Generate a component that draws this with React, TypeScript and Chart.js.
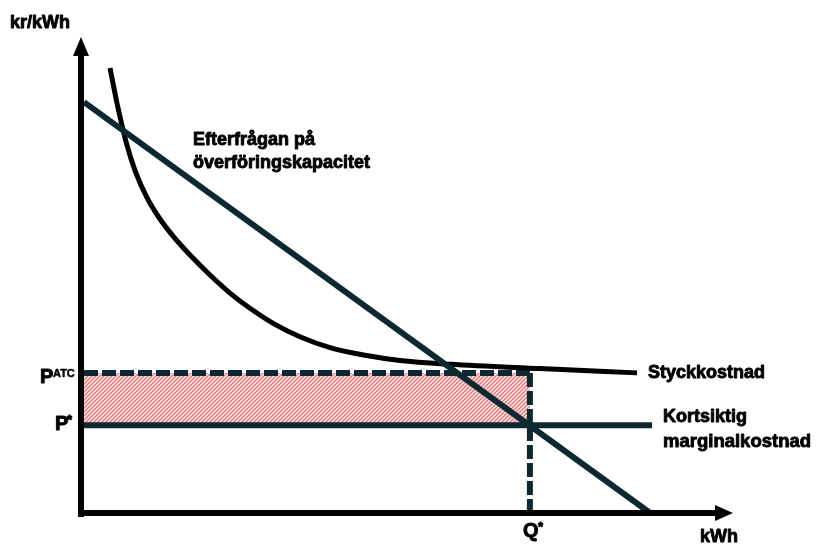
import React, { useEffect, useRef } from "react";
import { Chart, registerables } from "chart.js";

Chart.register(...registerables);

// ---- data (x: kWh units 0..100, y: kr/kWh units 0..100) ----
const DEMAND_X = [0, 87.1];
const DEMAND_Y = [86.5, 0];
const ATC_X = [4.0, 5.23, 6.46, 7.85, 9.69, 11.69, 14.0, 16.31, 19.38, 22.46, 25.54, 29.38, 33.23, 37.85, 43.23, 48.62, 56.31, 70.15, 85.08];
const ATC_Y = [93.7, 85.3, 78.2, 72.1, 66.4, 61.9, 57.8, 54.3, 50.1, 46.3, 43.1, 39.7, 37.1, 34.8, 33.2, 32.1, 31.3, 30.4, 29.5];
const P_ATC = 29.5;
const P_STAR = 18.5;
const Q_STAR = 68.6;
const MC_END_X = 87.4;

const Y_AXIS_LABEL = "kr/kWh";
const X_AXIS_LABEL = "kWh";
const DEMAND_LABEL = ["Efterfrågan på", "överföringskapacitet"];
const ATC_LABEL = "Styckkostnad";
const MC_LABEL = ["Kortsiktig", "marginalkostnad"];
const P_ATC_LABEL = ["P", "ATC"];
const P_STAR_LABEL = ["P", "*"];
const Q_STAR_LABEL = ["Q", "*"];

const TEAL = "#0d2831";
const FONT = "'Liberation Sans', Arial, sans-serif";

function makeHatch(): CanvasPattern | string {
  const n = 4;
  const c = document.createElement("canvas");
  c.width = n;
  c.height = n;
  const g = c.getContext("2d");
  if (!g) return "#f4b8b8";
  g.fillStyle = "#fbe2e2";
  g.fillRect(0, 0, n, n);
  g.strokeStyle = "#e06a6a";
  g.lineWidth = 1.2;
  g.beginPath();
  g.moveTo(-1, n + 1);
  g.lineTo(n + 1, -1);
  g.moveTo(-1, 1);
  g.lineTo(1, -1);
  g.moveTo(n - 1, n + 1);
  g.lineTo(n + 1, n - 1);
  g.stroke();
  return g.createPattern(c, "repeat") || "#f4b8b8";
}

const pts = (xs: number[], ys: number[]) => xs.map((x, i) => ({ x, y: ys[i] }));

function heavyText(ctx: CanvasRenderingContext2D, s: string, x: number, y: number) {
  ctx.fillText(s, x, y);
  ctx.strokeText(s, x, y);
}

const overlay = {
  id: "overlay",
  afterDraw(chart: any) {
    const ctx: CanvasRenderingContext2D = chart.ctx;
    const xs = chart.scales.x;
    const ys = chart.scales.y;
    const area = chart.chartArea;
    const x0 = xs.getPixelForValue(0);
    const y0 = ys.getPixelForValue(0);
    ctx.save();
    // axes
    ctx.strokeStyle = "#000";
    ctx.fillStyle = "#000";
    ctx.lineWidth = 6;
    ctx.lineCap = "butt";
    ctx.beginPath();
    ctx.moveTo(x0 - 3, y0 + 4);
    ctx.lineTo(x0 - 3, area.top + 14);
    ctx.stroke();
    ctx.beginPath();
    ctx.moveTo(x0 - 3, area.top - 1);
    ctx.lineTo(x0 - 11, area.top + 18);
    ctx.lineTo(x0 + 5, area.top + 18);
    ctx.closePath();
    ctx.fill();
    ctx.beginPath();
    ctx.moveTo(x0 - 6, y0);
    ctx.lineTo(area.right - 16, y0);
    ctx.stroke();
    ctx.beginPath();
    ctx.moveTo(area.right - 1, y0);
    ctx.lineTo(area.right - 19, y0 - 8);
    ctx.lineTo(area.right - 19, y0 + 8);
    ctx.closePath();
    ctx.fill();

    // texts
    ctx.fillStyle = "#000";
    ctx.strokeStyle = "#000";
    ctx.lineWidth = 0.9;
    ctx.lineJoin = "round";
    ctx.textBaseline = "alphabetic";
    ctx.textAlign = "left";
    ctx.font = `bold 18px ${FONT}`;
    heavyText(ctx, Y_AXIS_LABEL, 10, 28);
    heavyText(ctx, X_AXIS_LABEL, 700, y0 + 29);
    heavyText(ctx, DEMAND_LABEL[0], 193, 145);
    heavyText(ctx, DEMAND_LABEL[1], 193, 168);
    heavyText(ctx, ATC_LABEL, 648, ys.getPixelForValue(P_ATC) + 5);
    heavyText(ctx, MC_LABEL[0], 663, 422);
    ctx.font = `bold 18.5px ${FONT}`;
    heavyText(ctx, MC_LABEL[1], 663, 447);

    // P^ATC
    const pAtcY = ys.getPixelForValue(P_ATC);
    ctx.font = `bold 20px ${FONT}`;
    heavyText(ctx, P_ATC_LABEL[0], 40, pAtcY + 10);
    ctx.lineWidth = 0.5;
    ctx.font = `bold 11px ${FONT}`;
    heavyText(ctx, P_ATC_LABEL[1], 53, pAtcY + 4);
    // P*
    const pStarY = ys.getPixelForValue(P_STAR);
    ctx.lineWidth = 0.9;
    ctx.font = `bold 20px ${FONT}`;
    heavyText(ctx, P_STAR_LABEL[0], 55, pStarY + 5);
    ctx.font = `bold 13px ${FONT}`;
    heavyText(ctx, P_STAR_LABEL[1], 67, pStarY - 1);
    // Q*
    const qX = xs.getPixelForValue(Q_STAR);
    ctx.font = `bold 20px ${FONT}`;
    heavyText(ctx, Q_STAR_LABEL[0], qX - 7, y0 + 24);
    ctx.font = `bold 13px ${FONT}`;
    heavyText(ctx, Q_STAR_LABEL[1], qX + 8, y0 + 18);
    ctx.restore();
  },
};

export default function App() {
  const ref = useRef<HTMLCanvasElement>(null);
  useEffect(() => {
    if (!ref.current) return;
    const hatch = makeHatch();
    const chart = new Chart(ref.current, {
      type: "line",
      data: {
        datasets: [
          {
            label: "Efterfrågan",
            data: pts(DEMAND_X, DEMAND_Y),
            borderColor: TEAL,
            borderWidth: 6,
            pointRadius: 0,
            fill: false,
            order: 1,
          },
          {
            label: "Styckkostnad",
            data: pts(ATC_X, ATC_Y),
            borderColor: "#000",
            borderWidth: 5,
            pointRadius: 0,
            cubicInterpolationMode: "monotone",
            fill: false,
            order: 2,
          },
          {
            label: "Kortsiktig marginalkostnad",
            data: pts([0, MC_END_X], [P_STAR, P_STAR]),
            borderColor: TEAL,
            borderWidth: 6,
            pointRadius: 0,
            fill: false,
            order: 3,
          },
          {
            label: "Q*",
            data: pts([Q_STAR, Q_STAR], [0, P_ATC]),
            borderColor: TEAL,
            borderWidth: 6,
            borderDash: [14, 4],
            pointRadius: 0,
            fill: false,
            order: 4,
          },
          {
            label: "P ATC",
            data: pts([0, Q_STAR], [P_ATC, P_ATC]),
            borderColor: TEAL,
            borderWidth: 6,
            borderDash: [14, 4],
            pointRadius: 0,
            backgroundColor: hatch as any,
            fill: { value: P_STAR },
            order: 5,
          },
        ],
      },
      options: {
        responsive: false,
        animation: false,
        devicePixelRatio: 1,
        layout: { padding: { left: 84, right: 85, top: 38, bottom: 36 } },
        scales: {
          x: { type: "linear", min: 0, max: 100, display: false },
          y: { type: "linear", min: 0, max: 100, display: false },
        },
        plugins: {
          legend: { display: false },
          tooltip: { enabled: false },
        },
      },
      plugins: [overlay],
    } as any);
    return () => chart.destroy();
  }, []);
  return (
    <div style={{ position: "absolute", left: 0, top: 0, width: 819, height: 549, background: "#fff" }}>
      <canvas ref={ref} width={819} height={549} style={{ display: "block" }} />
    </div>
  );
}
